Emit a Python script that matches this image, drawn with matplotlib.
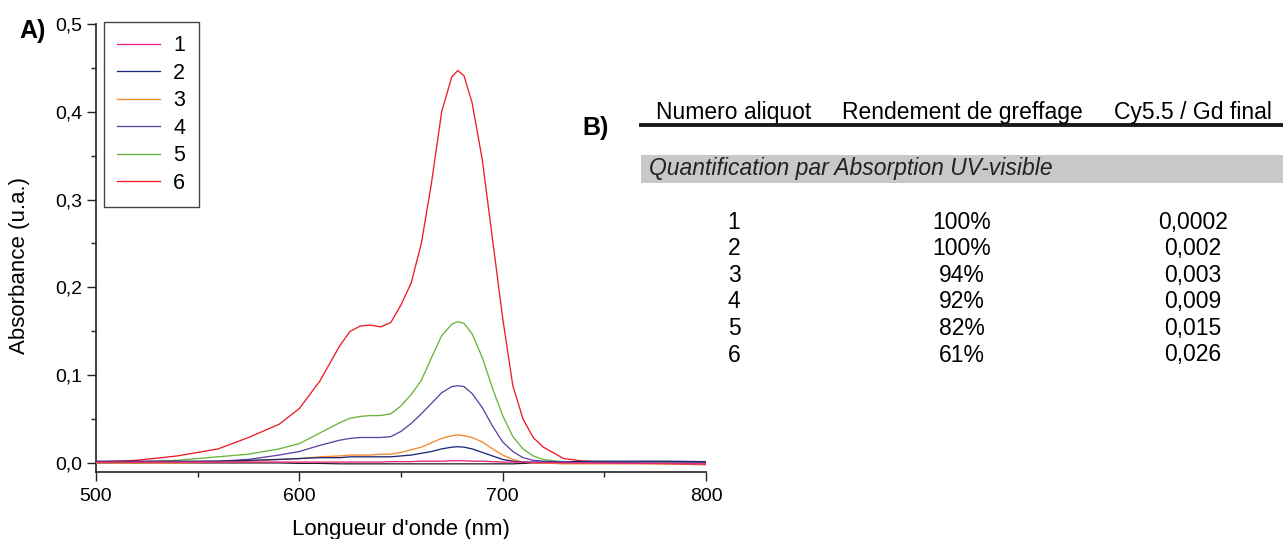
import matplotlib
matplotlib.use("Agg")
import matplotlib.pyplot as plt
from matplotlib.lines import Line2D
from matplotlib.patches import Rectangle
from matplotlib.ticker import MultipleLocator, FuncFormatter

plt.rcParams['font.family'] = ['Liberation Sans', 'DejaVu Sans']

# ---------------- data ----------------
wavelength = [500, 520, 540, 560, 575, 590, 600, 610, 620, 625, 630, 635, 640, 645,
              650, 655, 660, 665, 670, 675, 678, 681, 685, 690, 695, 700, 705, 710,
              715, 720, 730, 740, 760, 780, 800]

abs_1 = [0.001, 0.001, 0.001, 0.001, 0.001, 0.001, 0.001, 0.001, 0.001, 0.001, 0.001, 0.001, 0.001, 0.0015,
         0.0015, 0.0015, 0.002, 0.002, 0.002, 0.0025, 0.0025, 0.0025, 0.002, 0.002, 0.0015, 0.001, 0.001, 0.001,
         0.0005, 0.0005, 0.0, 0.0, -0.0005, -0.0005, -0.001]
abs_2 = [0.002, 0.002, 0.002, 0.002, 0.003, 0.004, 0.005, 0.006, 0.006, 0.007, 0.007, 0.007, 0.007, 0.007,
         0.008, 0.009, 0.011, 0.013, 0.016, 0.018, 0.0185, 0.018, 0.016, 0.012, 0.008, 0.004, 0.002, 0.001,
         0.001, 0.001, 0.001, 0.002, 0.002, 0.002, 0.0015]
abs_3 = [0.0, 0.0, 0.0, 0.001, 0.002, 0.004, 0.005, 0.007, 0.008, 0.009, 0.009, 0.009, 0.010, 0.010,
         0.012, 0.015, 0.018, 0.023, 0.028, 0.031, 0.032, 0.031, 0.029, 0.024, 0.016, 0.009, 0.004, 0.001,
         0.0, 0.0, -0.001, -0.001, -0.001, -0.001, -0.001]
abs_4 = [0.0, 0.001, 0.001, 0.002, 0.004, 0.009, 0.013, 0.020, 0.026, 0.028, 0.029, 0.029, 0.029, 0.030,
         0.036, 0.045, 0.056, 0.068, 0.080, 0.087, 0.088, 0.087, 0.079, 0.063, 0.042, 0.024, 0.013, 0.006,
         0.003, 0.002, 0.001, 0.001, 0.001, 0.0015, 0.001]
abs_5 = [0.0, 0.001, 0.003, 0.007, 0.010, 0.016, 0.022, 0.034, 0.046, 0.051, 0.053, 0.054, 0.054, 0.056,
         0.065, 0.078, 0.094, 0.120, 0.145, 0.158, 0.161, 0.159, 0.147, 0.120, 0.085, 0.054, 0.030, 0.016,
         0.008, 0.004, 0.001, 0.0, 0.0, 0.0, -0.001]
abs_6 = [0.001, 0.003, 0.008, 0.016, 0.029, 0.044, 0.062, 0.093, 0.134, 0.150, 0.156, 0.157, 0.155, 0.160,
         0.180, 0.205, 0.250, 0.319, 0.400, 0.440, 0.447, 0.441, 0.410, 0.345, 0.255, 0.165, 0.088, 0.050,
         0.029, 0.018, 0.005, 0.002, 0.0, -0.001, -0.002]
abs_blank = [0.0, 0.0, 0.0, 0.0, 0.0, 0.0, -0.0005, -0.0005, -0.001, -0.001, -0.001, -0.001, -0.001, -0.001,
             -0.001, -0.001, -0.001, -0.001, -0.001, -0.001, -0.001, -0.001, -0.001, -0.001, -0.001, -0.001, -0.001, -0.0005,
             0.0, 0.0, 0.0, 0.0, 0.0, 0.0, 0.0]

series_labels = ['1', '2', '3', '4', '5', '6']
series_colors = ['#e6267e', '#1f2878', '#f58a2a', '#5e44a2', '#6ab43e', '#ee1c25']

table_headers = ['Numero aliquot', 'Rendement de greffage', 'Cy5.5 / Gd final']
table_section = 'Quantification par Absorption UV-visible'
aliquots = ['1', '2', '3', '4', '5', '6']
rendement = ['100%', '100%', '94%', '92%', '82%', '61%']
cy_gd = ['0,0002', '0,002', '0,003', '0,009', '0,015', '0,026']

# ---------------- figure ----------------
W, H = 1283, 539
fig = plt.figure(figsize=(W / 100, H / 100), dpi=100)

def fx(px):
    return px / W

def fy(py):
    return 1 - py / H

ax = fig.add_axes([fx(96), fy(472), fx(706) - fx(96), fy(24) - fy(472)])

series = [abs_1, abs_2, abs_3, abs_4, abs_5, abs_6]
ax.plot(wavelength, abs_blank, color='#222222', lw=0.9, zorder=1)
handles = []
for i in range(5, -1, -1):
    h, = ax.plot(wavelength, series[i], color=series_colors[i], lw=0.95,
                 label=series_labels[i], zorder=2 + (5 - i))
    handles.append(h)
handles = handles[::-1]

ax.set_xlim(500, 800)
ax.set_ylim(-0.0103, 0.5)

for s in ['top', 'right']:
    ax.spines[s].set_visible(False)
for s in ['left', 'bottom']:
    ax.spines[s].set_linewidth(1.2)
    ax.spines[s].set_color('#222222')

ax.xaxis.set_major_locator(MultipleLocator(100))
ax.xaxis.set_minor_locator(MultipleLocator(50))
ax.yaxis.set_major_locator(MultipleLocator(0.1))
ax.yaxis.set_minor_locator(MultipleLocator(0.05))
ax.yaxis.set_major_formatter(FuncFormatter(lambda v, p: f"{v:.1f}".replace('.', ',')))

ax.tick_params(which='major', direction='out', length=6.5, width=1.0, labelsize=14,
               color='#222222', pad=3.5)
ax.tick_params(axis='x', which='major', pad=5)
ax.tick_params(which='minor', direction='out', length=3.6, width=1.0, color='#222222')

ax.set_xlabel("Longueur d'onde (nm)", fontsize=16)
ax.set_ylabel("Absorbance (u.a.)", fontsize=16)
ax.xaxis.set_label_coords(0.5, -0.105)
ax.yaxis.set_label_coords(-0.108, 0.46)

leg = ax.legend(handles=handles, loc='upper left',
                bbox_to_anchor=(fx(104), fy(22)), bbox_transform=fig.transFigure,
                borderaxespad=0, fontsize=15.5, frameon=True, fancybox=False,
                handlelength=2.0, handletextpad=0.6, labelspacing=0.3,
                borderpad=0.62, framealpha=1)
leg.get_frame().set_edgecolor('#444444')
leg.get_frame().set_linewidth(1.0)

fig.text(fx(19), fy(31), 'A)', fontsize=18, fontweight='bold', ha='left', va='center')
fig.text(fx(582), fy(128), 'B)', fontsize=18, fontweight='bold', ha='left', va='center')

# ---------------- table B ----------------
col_x = [734, 962, 1193]
header_y = 112
for cx, t in zip(col_x, table_headers):
    fig.text(fx(cx), fy(header_y), t, fontsize=16.5, ha='center', va='center')

fig.add_artist(Line2D([fx(641), 1.0], [fy(125), fy(125)], color='#1a1a1a', lw=2.8))
fig.add_artist(Rectangle((fx(641), fy(183)), 1.0 - fx(641), fy(155) - fy(183),
                         transform=fig.transFigure, facecolor='#c8c8c8', edgecolor='none'))
fig.text(fx(649), fy(169), table_section, fontsize=16.5, style='italic', ha='left',
         va='center', color='#222222')

row_y0 = 222
row_dy = 26.6
for r in range(len(aliquots)):
    yy = fy(row_y0 + r * row_dy)
    for cx, t in zip(col_x, [aliquots[r], rendement[r], cy_gd[r]]):
        fig.text(fx(cx), yy, t, fontsize=16.5, ha='center', va='center')

fig.savefig('out.png', dpi=100)
